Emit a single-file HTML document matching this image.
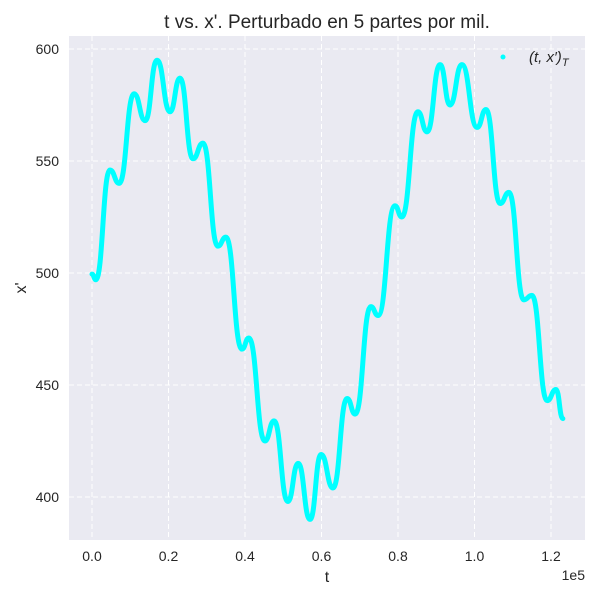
<!DOCTYPE html>
<html><head><meta charset="utf-8"><style>
body{margin:0;background:#fff;font-family:"Liberation Sans",sans-serif}
</style></head><body>
<svg width="600" height="600" xmlns="http://www.w3.org/2000/svg" font-family="Liberation Sans, sans-serif">
<rect x="69" y="36" width="516" height="504" fill="#eaeaf2"/>
<g id="grid"></g>
<g id="ticks" font-size="14" fill="#262626"></g>
<text x="327" y="28" font-size="19" text-anchor="middle" fill="#262626">t vs. x'. Perturbado en 5 partes por mil.</text>
<text x="327" y="582" font-size="16" text-anchor="middle" fill="#262626">t</text>
<text x="26" y="288" font-size="16" text-anchor="middle" fill="#262626" transform="rotate(-90 26 288)">x'</text>
<text x="585" y="580" font-size="14" text-anchor="end" fill="#262626">1e5</text>
<path id="curve" fill="none" stroke="#00ffff" stroke-width="5" stroke-linecap="round"/>
<g>
<circle cx="503" cy="57" r="2.5" fill="#00ffff"/>
<text x="529" y="62" font-size="15" font-style="italic" fill="#262626">(t, x′)<tspan font-size="11" dy="4">T</tspan></text>
</g>
</svg>
<script>
const tValues=[0,1.0,4.7,7.1,11.0,13.9,17.0,20.4,23.0,26.4,29.0,32.9,35.0,39.2,41.0,45.2,47.6,51.2,53.9,57.0,59.9,63.0,66.7,68.8,72.9,74.8,79.2,81.0,85.2,87.6,91.0,93.6,96.7,100.7,103.0,106.7,109.0,112.9,115.0,119.0,121.3,123.1];
const xValues=[499.5,497,546,540,580,568,595,572,587,551,558,512,516,466,471,425,434,398,415,390,419,404,444,437,485,481,530,525,572,563,593,575,593,565,573,531,536,488,490,443,448,435];
const xTicks=[0,20,40,60,80,100,120];
const xTickLabels=["0.0","0.2","0.4","0.6","0.8","1.0","1.2"];
const yTicks=[400,450,500,550,600];
const X=t=>92+t*3.825;
const Y=v=>49+(600-v)*2.24;
const ns="http://www.w3.org/2000/svg";
const grid=document.getElementById('grid'),ticks=document.getElementById('ticks');
xTicks.forEach((t,i)=>{
 const l=document.createElementNS(ns,'line');
 l.setAttribute('x1',X(t));l.setAttribute('x2',X(t));l.setAttribute('y1',36);l.setAttribute('y2',540);
 l.setAttribute('stroke','#fff');l.setAttribute('stroke-dasharray','5,3');
 
 
 grid.appendChild(l);
 const tx=document.createElementNS(ns,'text');
 tx.setAttribute('x',X(t));tx.setAttribute('y',561);tx.setAttribute('text-anchor','middle');
 tx.textContent=xTickLabels[i];
 
 
 ticks.appendChild(tx);
});
yTicks.forEach(v=>{
 const l=document.createElementNS(ns,'line');
 l.setAttribute('x1',69);l.setAttribute('x2',585);l.setAttribute('y1',Y(v));l.setAttribute('y2',Y(v));
 l.setAttribute('stroke','#fff');l.setAttribute('stroke-dasharray','5,3');
 
 
 grid.appendChild(l);
 const tx=document.createElementNS(ns,'text');
 tx.setAttribute('x',59);tx.setAttribute('y',Y(v)+5);tx.setAttribute('text-anchor','end');
 tx.textContent=v;
 
 
 ticks.appendChild(tx);
});
let d='M'+X(tValues[0])+','+Y(xValues[0]);
for(let i=1;i<tValues.length;i++){
 const x0=X(tValues[i-1]),y0=Y(xValues[i-1]),x1=X(tValues[i]),y1=Y(xValues[i]);
 const m=(x1-x0)/2;
 d+=' C'+(x0+m)+','+y0+' '+(x1-m)+','+y1+' '+x1+','+y1;
}
document.getElementById('curve').setAttribute('d',d);
</script>
</body></html>
